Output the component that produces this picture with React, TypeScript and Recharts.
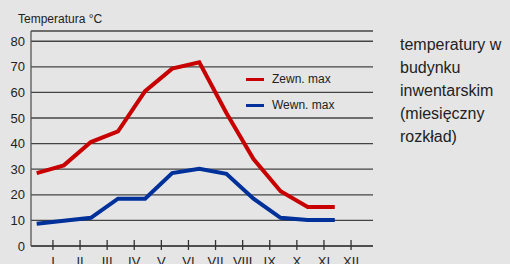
import React from 'react'
import { LineChart, Line, XAxis, YAxis, CartesianGrid } from 'recharts'

const months = ['I', 'II', 'III', 'IV', 'V', 'VI', 'VII', 'VIII', 'IX', 'X', 'XI', 'XII']
const zewnMax = [28.5, 31.5, 40.6, 44.8, 60.5, 69.3, 71.8, 52, 34, 21.4, 15.2, 15.2]
const wewnMax = [8.7, 9.9, 11, 18.5, 18.5, 28.5, 30.2, 28.2, 18.5, 11, 10.2, 10.2]
const yTicks = [0, 10, 20, 30, 40, 50, 60, 70, 80]
const noteLines = ['temperatury w', 'budynku', 'inwentarskim', '(miesięczny', 'rozkład)']

const RED = '#c80000'
const BLUE = '#00309a'
const FONT = '"Liberation Sans", Arial, sans-serif'

const data = months.map((m, i) => ({ pos: i, zewn: zewnMax[i], wewn: wewnMax[i] }))
// month ticks sit a bit right of each point, like in the original drawing
const xTicks = months.map((_, i) => i + 0.6)

const series = [
  { key: 'zewn', name: 'Zewn. max', color: RED },
  { key: 'wewn', name: 'Wewn. max', color: BLUE },
]

const MonthTick = (props: any) => {
  const { x, y, payload } = props
  const idx = Math.round(payload.value - 0.6)
  return (
    <g>
      <line x1={x} x2={x} y1={y - 6} y2={y + 4} stroke="#333" strokeWidth={1.3} />
      <text x={x} y={y + 20} textAnchor="middle" fontSize={13} fill="#222" fontFamily={FONT}>
        {months[idx]}
      </text>
    </g>
  )
}

export default function App() {
  return (
    <div
      style={{
        position: 'fixed',
        left: 0,
        top: 0,
        width: 510,
        height: 264,
        background: '#e5e5e5',
        overflow: 'hidden',
        fontFamily: FONT,
      }}
    >
      <div style={{ position: 'absolute', left: 18, top: 12, fontSize: 12, color: '#222' }}>
        Temperatura °C
      </div>
      <LineChart width={510} height={264} data={data} margin={{ top: 31, right: 137, bottom: 0, left: 0 }}>
        <CartesianGrid vertical={false} stroke="#444" strokeWidth={1.3} />
        <XAxis
          dataKey="pos"
          type="number"
          domain={[-0.21, 12.41]}
          ticks={xTicks}
          height={18}
          tickLine={false}
          tickSize={0}
          tickMargin={0}
          axisLine={{ stroke: '#444', strokeWidth: 1.3 }}
          tick={<MonthTick />}
          interval={0}
        />
        <YAxis
          width={31}
          domain={[0, 84]}
          ticks={yTicks}
          tickLine={false}
          tickSize={0}
          tickMargin={6}
          axisLine={{ stroke: '#555', strokeWidth: 1.3 }}
          tick={{ fontSize: 13, fill: '#222', fontFamily: FONT }}
          interval={0}
        />
        {series.map((s) => (
          <Line
            key={s.key}
            type="linear"
            dataKey={s.key}
            name={s.name}
            stroke={s.color}
            strokeWidth={4}
            dot={false}
            isAnimationActive={false}
          />
        ))}
      </LineChart>
      <div style={{ position: 'absolute', left: 246, top: 66, fontSize: 12, color: '#222' }}>
        {series.map((s) => (
          <div key={s.key} style={{ display: 'flex', alignItems: 'center', height: 26 }}>
            <span style={{ width: 18, height: 3, background: s.color, marginRight: 8 }} />
            <span>{s.name}</span>
          </div>
        ))}
      </div>
      <div style={{ position: 'absolute', left: 400, top: 33, fontSize: 16, lineHeight: '23px', color: '#222' }}>
        {noteLines.map((l) => (
          <div key={l}>{l}</div>
        ))}
      </div>
    </div>
  )
}
